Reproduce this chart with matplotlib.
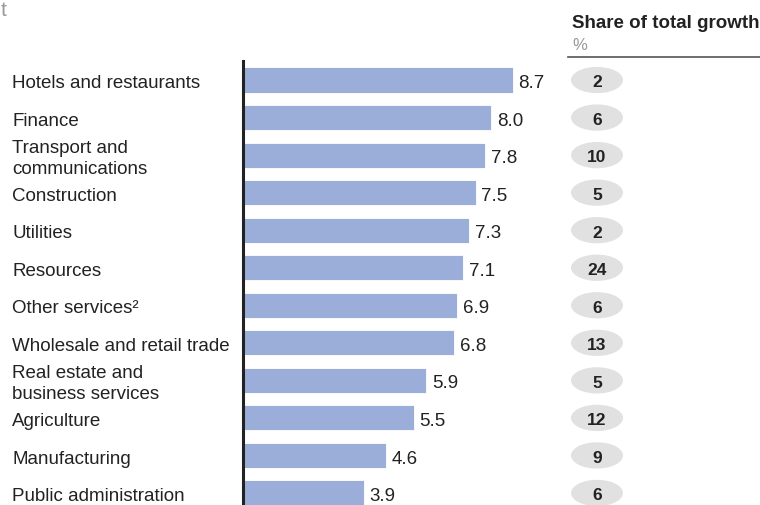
import matplotlib.pyplot as plt
from matplotlib.patches import Ellipse
from matplotlib.transforms import blended_transform_factory

plt.rcParams['font.family'] = ['Liberation Sans', 'DejaVu Sans']

# Data
sectors = ['Hotels and restaurants', 'Finance', 'Transport and\ncommunications',
           'Construction', 'Utilities', 'Resources', 'Other services²',
           'Wholesale and retail trade', 'Real estate and\nbusiness services',
           'Agriculture', 'Manufacturing', 'Public administration']
growth = [8.7, 8.0, 7.8, 7.5, 7.3, 7.1, 6.9, 6.8, 5.9, 5.5, 4.6, 3.9]
share = [2, 6, 10, 5, 2, 24, 6, 13, 5, 12, 9, 6]

W, H = 760, 506
fig = plt.figure(figsize=(W / 100, H / 100), dpi=100)

# bar axes (pixel layout: x 243..553, y 62..506)
top_px, bot_px = 62, 506
ax = fig.add_axes([243 / W, 1 - bot_px / H, 310 / W, (bot_px - top_px) / H])
pos = list(range(len(sectors)))
ax.barh(pos, growth, height=0.67, color='#9aaed9', edgecolor='white', linewidth=0.6)
ax.set_xlim(0, 10)
ax.set_ylim(11.32, -0.507)
for s in ['top', 'right', 'bottom']:
    ax.spines[s].set_visible(False)
ax.spines['left'].set_linewidth(2.2)
ax.spines['left'].set_color('#222222')
ax.set_xticks([])
ax.set_yticks([])

txt_col = '#222222'
dy = 0.07  # nudge text down a little
for i, v in enumerate(growth):
    ax.text(v + 0.19, i + dy, f'{v:.1f}', va='center', ha='left', fontsize=13.5, color=txt_col)

tr = blended_transform_factory(fig.transFigure, ax.transData)
for i, name in enumerate(sectors):
    ax.text(12 / W, i + dy, name, transform=tr, va='center', ha='left',
            fontsize=13.5, color=txt_col, clip_on=False, linespacing=1.3)

# share pills
ax2 = fig.add_axes([568 / W, 1 - bot_px / H, 192 / W, (bot_px - top_px) / H])
ax2.set_xlim(568, 760)
ax2.set_ylim(11.32, -0.507)
ax2.axis('off')
for i, s in enumerate(share):
    ax2.add_patch(Ellipse((597, i), 52, 0.7, facecolor='#e1e1e1', edgecolor='none', clip_on=False))
    ax2.text(597, i + 0.05, str(s), ha='center', va='center', fontsize=12.5,
             fontweight='bold', color=txt_col)

# header
fig.text(572 / W, 1 - 23 / H, 'Share of total growth', fontsize=13.5, fontweight='bold',
         color=txt_col, ha='left', va='center')
fig.text(572 / W, 1 - 45 / H, '%', fontsize=12, color='#999999', ha='left', va='center')
fig.add_artist(plt.Line2D([568 / W, 1], [1 - 58 / H, 1 - 58 / H], color='#555555', linewidth=1.2))

# title remnant at top-left
fig.text(1 / W, 1 - 1 / H, 't', fontsize=15, color='#999999', ha='left', va='top')

fig.savefig('out.png', dpi=100)
